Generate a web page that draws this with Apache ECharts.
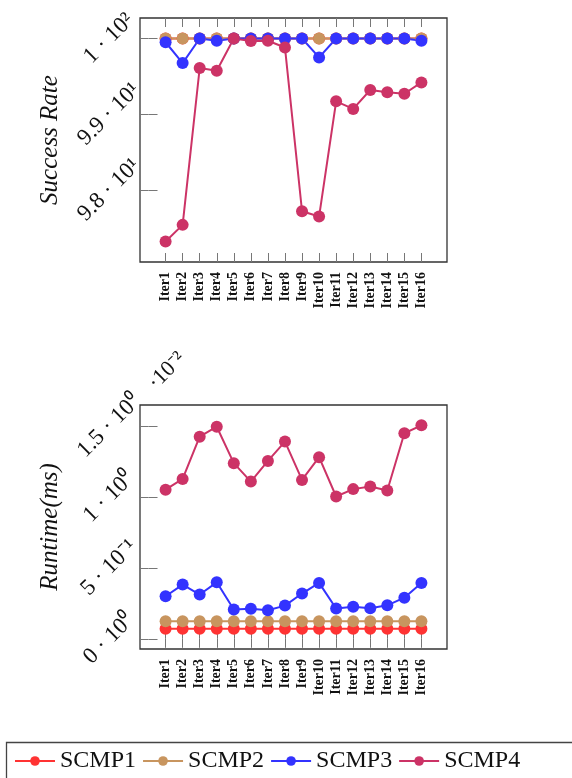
<!DOCTYPE html>
<html>
<head>
<meta charset="utf-8">
<script src="https://cdn.jsdelivr.net/npm/echarts@6/dist/echarts.min.js"></script>
<style>
html,body{margin:0;padding:0;background:#fff;}
#chart{width:572px;height:778px;}
</style>
</head>
<body>
<div id="chart"></div>
<script>
const categories = ['Iter1','Iter2','Iter3','Iter4','Iter5','Iter6','Iter7','Iter8','Iter9','Iter10','Iter11','Iter12','Iter13','Iter14','Iter15','Iter16'];
const seriesNames = ['SCMP1','SCMP2','SCMP3','SCMP4'];

const successSCMP1 = [100,100,100,100,100,100,100,100,100,100,100,100,100,100,100,100];
const successSCMP2 = [100,100,100,100,100,100,100,100,100,100,100,100,100,100,100,100];
const successSCMP3 = [99.95,99.675,100,99.97,100,100,100,100,100,99.75,100,100,100,100,100,99.97];
const successSCMP4 = [97.32,97.54,99.61,99.575,100,99.965,99.97,99.88,97.72,97.65,99.17,99.07,99.32,99.29,99.27,99.42];

const runtimeSCMP1 = [0.07,0.07,0.07,0.07,0.07,0.07,0.07,0.07,0.07,0.07,0.07,0.07,0.07,0.07,0.07,0.07];
const runtimeSCMP2 = [0.124,0.124,0.124,0.124,0.124,0.124,0.124,0.124,0.124,0.124,0.124,0.124,0.124,0.124,0.124,0.124];
const runtimeSCMP3 = [0.300,0.382,0.312,0.398,0.206,0.211,0.201,0.234,0.319,0.394,0.213,0.225,0.215,0.236,0.290,0.394];
const runtimeSCMP4 = [1.051,1.127,1.425,1.495,1.238,1.108,1.254,1.390,1.120,1.280,1.003,1.055,1.073,1.045,1.449,1.505];

const successTickValues = [98, 99, 100];
const successTickLabels = ['9.8 · 10¹', '9.9 · 10¹', '1 · 10²'];
const runtimeTickValues = [0, 0.5, 1, 1.5];
const runtimeTickLabels = ['0 · 10⁰', '5 · 10⁻¹', '1 · 10⁰', '1.5 · 10⁰'];
const runtimeScaleLabel = '·10⁻²';

const colors = ['#ff3333', '#c8955f', '#3333ff', '#cc3366'];
const FONT = 'Liberation Serif';
const xPositions = categories.map((c, i) => i + 1);

function pairs(arr) { return arr.map((v, i) => [xPositions[i], v]); }

const chart = echarts.init(document.getElementById('chart'), null, {renderer: 'canvas'});

const grids = [
  {left: 140, top: 18, width: 307, height: 244, show: true, borderColor: '#333', borderWidth: 1.3, backgroundColor: 'transparent'},
  {left: 140, top: 405, width: 307, height: 244, show: true, borderColor: '#333', borderWidth: 1.3, backgroundColor: 'transparent'}
];

function xAxes(gi) {
  const base = {
    type: 'value', gridIndex: gi, min: -0.5, max: 17.5,
    splitLine: {show: false}, axisLine: {show: false}
  };
  return [
    Object.assign({}, base, {
      position: 'bottom',
      axisTick: {show: true, inside: true, length: 9, customValues: xPositions, lineStyle: {color: '#777', width: 1}},
      axisLabel: {show: true, customValues: xPositions, rotate: 90, margin: 10,
        formatter: v => categories[Math.round(v) - 1] || '',
        fontFamily: FONT, fontSize: 14, fontWeight: 'bold', color: '#111'}
    }),
    Object.assign({}, base, {
      position: 'top',
      axisTick: {show: true, inside: true, length: 9, customValues: xPositions, lineStyle: {color: '#777', width: 1}},
      axisLabel: {show: false}
    })
  ];
}

function yAxes(gi, min, max, tv, tl, name) {
  const base = {type: 'value', gridIndex: gi, min: min, max: max, splitLine: {show: false}, axisLine: {show: false}};
  return [
    Object.assign({}, base, {
      position: 'left',
      name: name, nameLocation: 'middle', nameGap: 74, nameRotate: 90,
      nameTextStyle: {fontFamily: FONT, fontStyle: 'italic', fontSize: 25, color: '#111'},
      axisTick: {show: true, inside: true, length: 9, customValues: tv, lineStyle: {color: '#777', width: 1}},
      axisLabel: {show: true, customValues: tv, rotate: 45, align: 'center', verticalAlign: 'middle', margin: 31,
        formatter: v => { const i = tv.findIndex(t => Math.abs(t - v) < 1e-9); return i >= 0 ? tl[i] : ''; },
        fontFamily: FONT, fontSize: 23, color: '#111'}
    }),
    Object.assign({}, base, {
      position: 'right',
      axisTick: {show: true, inside: true, length: 9, customValues: tv, lineStyle: {color: '#777', width: 1}},
      axisLabel: {show: false}
    })
  ];
}

const successData = [successSCMP1, successSCMP2, successSCMP3, successSCMP4];
const runtimeData = [runtimeSCMP1, runtimeSCMP2, runtimeSCMP3, runtimeSCMP4];

function mkSeries(name, data, color, gi) {
  return {
    name: name, type: 'line', xAxisIndex: gi * 2, yAxisIndex: gi * 2,
    data: pairs(data), symbol: 'circle', symbolSize: 12, showSymbol: true,
    lineStyle: {color: color, width: 2}, itemStyle: {color: color},
    emphasis: {disabled: true}, animation: false
  };
}

const series = [];
seriesNames.forEach((n, i) => series.push(mkSeries(n, successData[i], colors[i], 0)));
seriesNames.forEach((n, i) => series.push(mkSeries(n, runtimeData[i], colors[i], 1)));

chart.setOption({
  animation: false,
  color: colors,
  grid: grids,
  xAxis: xAxes(0).concat(xAxes(1)),
  yAxis: yAxes(0, 97.05, 100.27, successTickValues, successTickLabels, 'Success Rate')
    .concat(yAxes(1, -0.072, 1.648, runtimeTickValues, runtimeTickLabels, 'Runtime(ms)')),
  legend: {
    data: seriesNames, left: 5, top: 741, width: 567, orient: 'horizontal',
    padding: [8, 0, 8, 9],
    itemGap: 6, itemWidth: 40, itemHeight: 12,
    textStyle: {fontFamily: FONT, fontSize: 24, color: '#111'}
  },
  graphic: [{
    type: 'rect', left: 4, top: 740, silent: true, z: 10,
    shape: {width: 620, height: 80},
    style: {fill: 'none', stroke: '#444', lineWidth: 1.3}
  }, {
    type: 'text', x: 167, y: 371, rotation: Math.PI / 4,
    style: {text: runtimeScaleLabel, fontFamily: FONT, fontSize: 22, fill: '#111', align: 'center', verticalAlign: 'middle'}
  }],
  series: series
});
</script>
</body>
</html>
